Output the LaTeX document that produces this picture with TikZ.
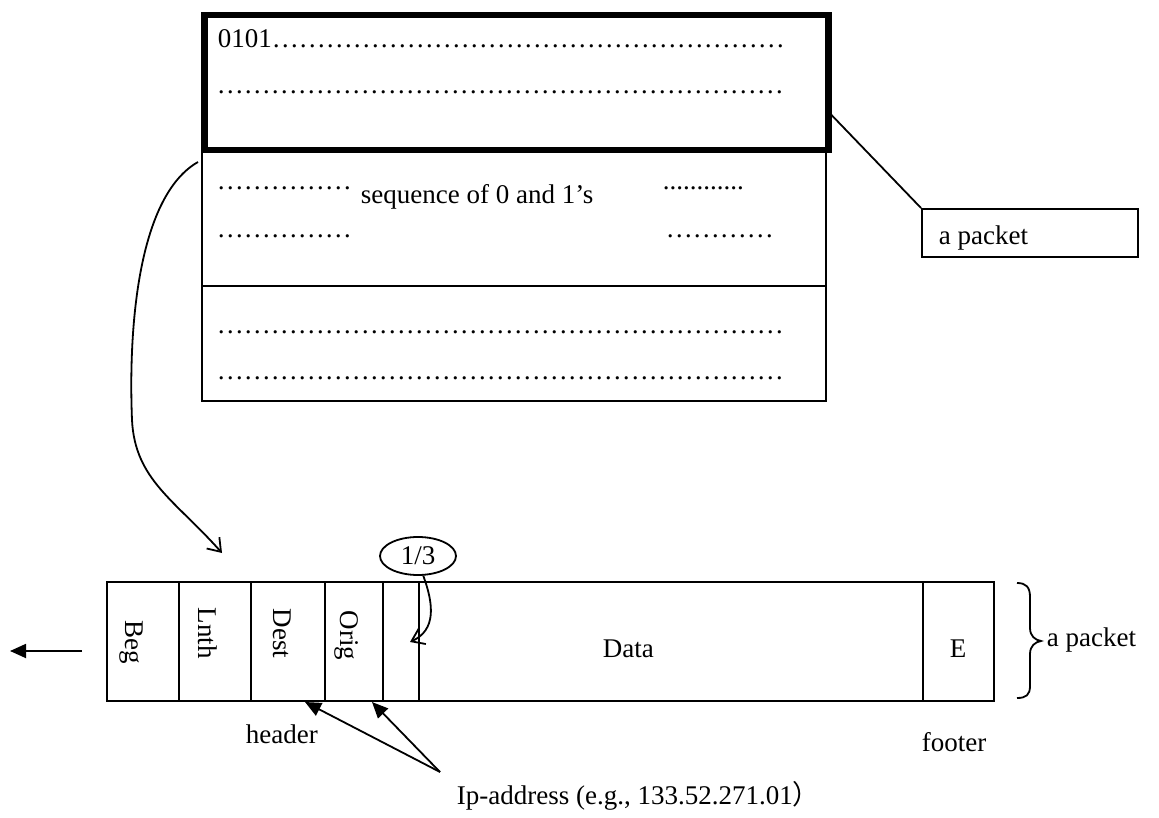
\documentclass[tikz,border=0pt]{standalone}
\usepackage{fontspec}
\setmainfont{Liberation Serif}
\newfontfamily\cjkfont{Noto Sans CJK JP}
\usetikzlibrary{arrows.meta,shapes.geometric,calc}

% a run of n ellipsis characters
\newcommand\dotrun[1]{\foreach \k in {1,...,#1}{…}}

\begin{document}
\begin{tikzpicture}[x=1pt,y=-1pt,line width=1.8pt,
  font=\fontsize{27}{32}\selectfont,
  box/.style={draw,rectangle,inner sep=0pt,anchor=north west},
  cell/.style={box,minimum height=119pt},
  txt/.style={inner sep=0pt,anchor=base west},
  vlabel/.style={inner sep=0pt,anchor=base west,rotate=-90},
  openhead/.style={-{Straight Barb[length=12pt,width=17pt]}},
  solidhead/.style={-{Triangle[length=16pt,width=14pt]}}]

\useasboundingbox (0,0) rectangle (1159,818);

% ---- the stream of bits, split into packets ----
\node[box,minimum width=624pt,minimum height=138pt] (midbox) at (201,147) {};
\node[box,minimum width=624pt,minimum height=115pt] (lowbox) at (201,285) {};
\node[box,line width=6.5pt,minimum width=624pt,minimum height=135pt] (topbox) at (201,12) {};

\node[txt] (row1) at (217,48) {0101\dotrun{19}};
\node[txt] (row2) at (216,94) {\dotrun{21}};
\node[txt] (row3a) at (216,190) {\dotrun{5}};
\node[txt] (seq) at (360,204) {sequence of 0 and 1’s};
\node[txt] (row3b) at (662,190) {............};
\node[txt] (row4a) at (216,238) {\dotrun{5}};
\node[txt] (row4b) at (665,238) {\dotrun{4}};
\node[txt] (row5) at (216,333) {\dotrun{21}};
\node[txt] (row6) at (216,379) {\dotrun{21}};

% ---- callout naming the packet ----
\node[box,minimum width=216pt,minimum height=48pt] (callout) at (921,208) {};
\node[txt] (callouttext) at (938,245) {a packet};
\coordinate (calloutfoot) at ($(topbox.north east)+(0,103)$);
\draw (calloutfoot) -- (callout.north west);

% ---- packet layout ----
\node[cell,minimum width=72pt] (cbeg)  at (106,581) {};
\node[cell,minimum width=72pt] (clnth) at (178,581) {};
\node[cell,minimum width=74pt] (cdest) at (250,581) {};
\node[cell,minimum width=58pt] (corig) at (324,581) {};
\node[cell,minimum width=36pt] (cgap)  at (382,581) {};
\node[cell,minimum width=504pt] (cdata) at (418,581) {};
\node[cell,minimum width=71pt] (cend)  at (922,581) {};

\node[vlabel] (lbeg)  at (125,620) {Beg};
\node[vlabel] (llnth) at (198,607) {Lnth};
\node[vlabel] (ldest) at (273,608) {Dest};
\node[vlabel] (lorig) at (340,610) {Orig};
\node[txt] (ldata) at (602,657) {Data};
\node[txt] (lend)  at (949,657) {E};

% fraction bubble
\node[draw,ellipse,inner sep=0pt,minimum width=76pt,minimum height=38pt] (frac) at (418,556) {1/3};
\coordinate (fractip) at (410,642);
\draw[openhead] (frac.-75) .. controls (434,605) and (436,630) .. (fractip);

% the packet taken out of the stream
\coordinate (bigstart) at ($(midbox.north west)+(-3,15)$);
\coordinate (bigmid) at (132,420);
\coordinate (bigtip) at (222,553);
\draw[openhead] (bigstart) .. controls (140,195) and (128,320) .. (bigmid)
  .. controls (135,480) and (175,500) .. (bigtip);

% direction of travel
\coordinate (outstart) at (82,651);
\coordinate (outend) at (10,651);
\draw[solidhead] (outstart) -- (outend);

% brace and its label
\draw (1017,583) .. controls (1026,583) and (1030,587) .. (1030,597) -- (1030,628)
  .. controls (1030,636) and (1035,640) .. (1041,641)
  .. controls (1035,642) and (1030,646) .. (1030,654) -- (1030,686)
  .. controls (1030,695) and (1026,698) .. (1017,698);
\node[txt] (bracelabel) at (1046,646) {a packet};

% header, footer and addresses
\node[txt] (hdr) at (245,743) {header};
\node[txt] (ftr) at (921,751) {footer};
\node[txt] (ip) at (456,804) {Ip-address (e.g., 133.52.271.01{\cjkfont ）}};
\coordinate (ipfork) at (440,772);
\coordinate (desttip) at (305,702);
\coordinate (origtip) at (372,702);
\draw[solidhead] (ipfork) -- (desttip);
\draw[solidhead] (ipfork) -- (origtip);
\end{tikzpicture}
\end{document}
